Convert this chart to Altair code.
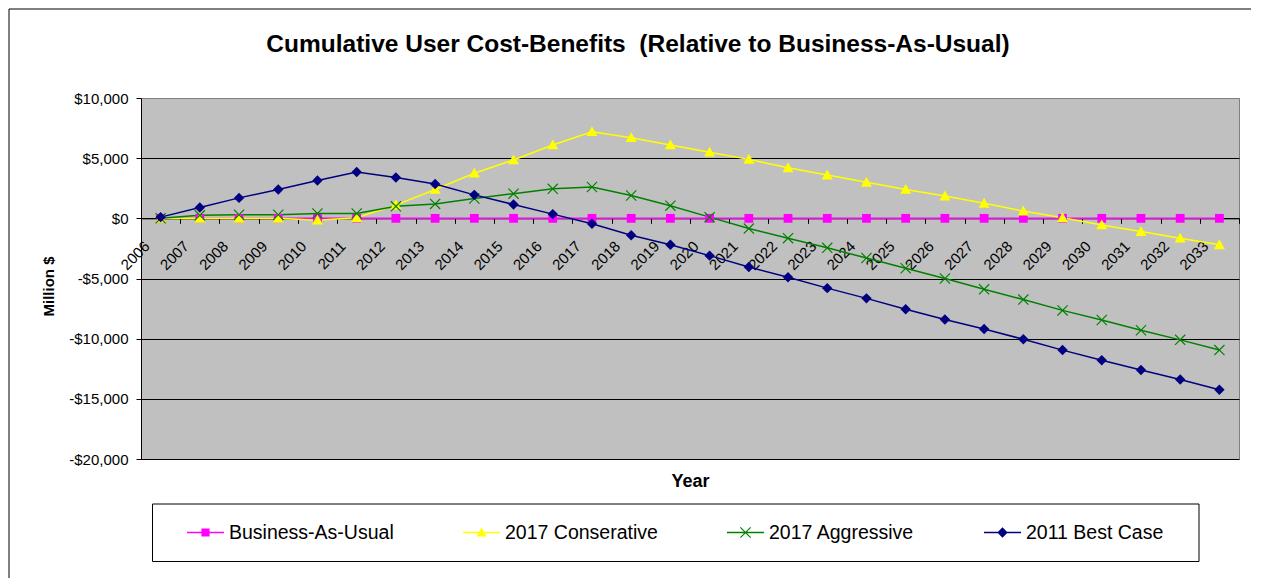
import altair as alt
import pandas as pd

years = ["2006", "2007", "2008", "2009", "2010", "2011", "2012", "2013", "2014", "2015",
         "2016", "2017", "2018", "2019", "2020", "2021", "2022", "2023", "2024", "2025",
         "2026", "2027", "2028", "2029", "2030", "2031", "2032", "2033"]
series = ["Business-As-Usual", "2017 Conserative", "2017 Aggressive", "2011 Best Case"]
bau = [0, 0, 0, 0, 0, 0, 0, 0, 0, 0, 0, 0, 0, 0, 0, 0, 0, 0, 0, 0, 0, 0, 0, 0, 0, 0, 0, 0]
cons = [0, 0, 0, 0, -150, 50, 1100, 2400, 3750, 4850, 6100, 7200, 6700, 6100, 5500, 4900,
        4200, 3600, 3000, 2400, 1850, 1250, 600, 50, -550, -1100, -1650, -2200]
agg = [0, 250, 300, 300, 400, 400, 1000, 1200, 1650, 2050, 2450, 2600, 1900, 1050, 100, -850,
       -1650, -2450, -3300, -4150, -5000, -5900, -6750, -7650, -8450, -9300, -10100, -10950]
best = [100, 900, 1700, 2400, 3150, 3850, 3400, 2850, 1950, 1150, 350, -450, -1400, -2200,
        -3100, -4050, -4900, -5800, -6650, -7550, -8400, -9200, -10050, -10950, -11800,
        -12600, -13400, -14250]
colors = ["#FF00FF", "#FFFF00", "#008000", "#000080"]
y_ticks = [-20000, -15000, -10000, -5000, 0, 5000, 10000]
title_text = ["Cumulative User Cost-Benefits\u00a0 (Relative to Business-As-Usual)"]

FONT = "Liberation Sans"

rows = []
for s, vals in zip(series, [bau, cons, agg, best]):
    for yr, v in zip(years, vals):
        rows.append({"year": yr, "series": s, "value": v})
df = pd.DataFrame(rows)


def poly(pts):
    return "M" + "L".join(f"{x:.3f},{y:.3f}" for x, y in pts) + "Z"


def square(h):
    return poly([(-h, -h), (h, -h), (h, h), (-h, h)])


def tri(h):
    return poly([(0, -h), (h, 0.8 * h), (-h, 0.8 * h)])


def diamond(h):
    return poly([(0, -h), (h, 0), (0, h), (-h, 0)])


def xmark(h, t):
    a = poly([(-h, -h + t), (-h + t, -h), (h, h - t), (h - t, h)])
    b = poly([(-h + t, h), (-h, h - t), (h - t, -h), (h, -h + t)])
    return a + b


def hline(w, t):
    return poly([(-w, -t), (w, -t), (w, t), (-w, t)])


marker_paths = [square(0.8), tri(1.0), xmark(1.0, 0.15), diamond(0.95)]
lw = hline(1.0, 0.034)
legend_paths = [lw + square(0.22), lw + tri(0.27), lw + xmark(0.3, 0.045), lw + diamond(0.28)]

width, height = 1098, 361
zero_y = height * 10000 / 30000

x_enc = alt.X(
    "year:N", sort=years, bandPosition=0.5,
    scale=alt.Scale(type="band", domain=years, paddingInner=0, paddingOuter=0),
    axis=alt.Axis(
        offset=zero_y - height, title="Year", titleY=height - zero_y + 22, titleX=width / 2,
        titleBaseline="middle", titleFont=FONT, titleFontSize=18, titleFontWeight="bold",
        titleColor="black", labelAngle=-45, labelAlign="right", labelBaseline="middle",
        labelPadding=20, labelOffset=-14, labelFont=FONT, labelFontSize=15, labelColor="black",
        labelOverlap=False, labelFlush=False, labelBound=False, tickBand="extent", tickSize=5,
        tickColor="black", domainColor="black", grid=False,
    ),
)
y_enc = alt.Y(
    "value:Q", scale=alt.Scale(domain=[-20000, 10000], nice=False, zero=False),
    axis=alt.Axis(
        values=y_ticks, title="Million $", titleFont=FONT, titleFontSize=15,
        titleFontWeight="bold", titleColor="black", titleX=-93, titleY=188,
        titleBaseline="middle", titleAlign="center",
        labelFont=FONT, labelFontSize=15, labelColor="black", labelPadding=8,
        labelExpr="datum.value < 0 ? '-$' + format(-datum.value, ',') : '$' + format(datum.value, ',')",
        tickSize=5, tickColor="black", domainColor="black", grid=True,
        gridColor=alt.condition("datum.value == 10000", alt.value("#808080"), alt.value("#000000")),
        gridWidth=1,
    ),
)

color_scale = alt.Scale(domain=series, range=colors)

layers = []

box_df = pd.DataFrame({"b": [0]})
layers.append(alt.Chart(box_df).mark_rect(fill="white", stroke="black", strokeWidth=1).encode(
    x=alt.value(11.5), x2=alt.value(1058), y=alt.value(406), y2=alt.value(463.5)
))

for s, c in zip(series, colors):
    layers.append(
        alt.Chart(df).transform_filter(alt.datum.series == s)
        .mark_line(strokeWidth=1.5, color=c)
        .encode(x=x_enc, y=y_enc)
    )
for s, c, p in zip(series, colors, marker_paths):
    layers.append(
        alt.Chart(df).transform_filter(alt.datum.series == s)
        .mark_point(filled=True, size=121, opacity=1, shape=p, color=c)
        .encode(x=x_enc, y=y_enc)
    )

legend_props = dict(
    orient="none", legendX=46, legendY=416, direction="horizontal", columns=4,
    title=None, labelFont=FONT, labelFontSize=19.5, labelColor="black",
    labelLimit=400, labelOffset=5, symbolSize=1369, symbolStrokeWidth=0,
    columnPadding=69, padding=0,
)

legend_layer = alt.Chart(df).transform_filter("datum.value > 1e9").mark_point(
    filled=True, size=1369, opacity=1
).encode(
    x=x_enc, y=y_enc,
    shape=alt.Shape("series:N", scale=alt.Scale(domain=series, range=legend_paths),
                    legend=alt.Legend(**legend_props)),
    color=alt.Color("series:N", scale=color_scale, legend=alt.Legend(**legend_props)),
)
layers.append(legend_layer)

title_df = pd.DataFrame({"t": title_text})
layers.append(alt.Chart(title_df).mark_text(
    font=FONT, fontSize=24.5, fontWeight="bold", align="center", baseline="alphabetic", color="black"
).encode(text="t:N", x=alt.value(497), y=alt.value(-46)))

frame_df = pd.DataFrame({"f": [0]})
layers.append(alt.Chart(frame_df).mark_rule(color="black", strokeWidth=1).encode(
    x=alt.value(-132), y=alt.value(-89), y2=alt.value(480)
))
layers.append(alt.Chart(frame_df).mark_rule(color="black", strokeWidth=1).encode(
    x=alt.value(-132), x2=alt.value(1110), y=alt.value(-89)
))

chart = alt.layer(*layers).properties(
    width=width, height=height, padding=0, background="white"
).configure_view(
    fill="#C0C0C0", stroke="#808080", strokeWidth=1
)

chart.save("out.html", embed_options={"renderer": "svg", "actions": False})
